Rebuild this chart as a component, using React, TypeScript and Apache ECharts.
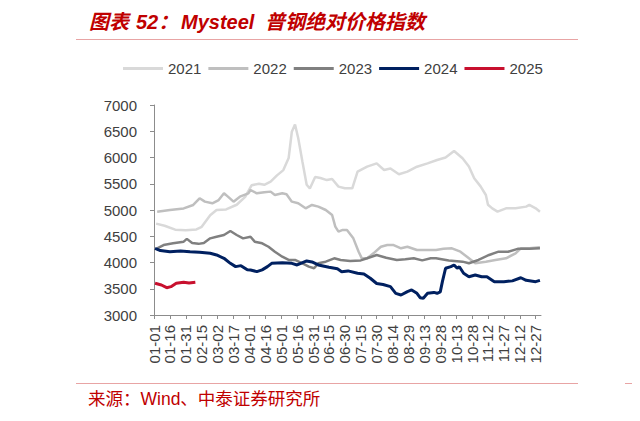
import React, { useEffect, useRef } from "react";
import * as echarts from "echarts";

const YEARS = ["2021", "2022", "2023", "2024", "2025"];
const COLORS = ["#d9d9d9", "#bfbfbf", "#808080", "#002060", "#c8102e"];
const WIDTHS = [2.5, 2.5, 2.5, 3, 3];

const TICK_LABELS = [
  "01-01", "01-16", "01-31", "02-15", "03-02", "03-17", "04-01", "04-16", "05-01",
  "05-16", "05-31", "06-15", "06-30", "07-15", "07-30", "08-14", "08-29", "09-13",
  "09-28", "10-13", "10-28", "11-12", "11-27", "12-12", "12-27",
];

// [day of year, index value]
const D2021 = [
  [2, 4740], [10, 4700], [20, 4625], [30, 4615], [40, 4630], [45, 4680], [53, 4900], [59, 5000],
  [68, 5010], [78, 5100], [86, 5250], [92, 5470], [99, 5500], [104, 5480], [110, 5540], [116, 5660],
  [122, 5760], [127, 5990], [130, 6490], [133, 6630], [136, 6370], [140, 5920], [144, 5480], [147, 5410],
  [152, 5630], [157, 5610], [163, 5570], [168, 5590], [174, 5445], [180, 5413], [187, 5413], [192, 5730],
  [201, 5825], [210, 5889], [217, 5762], [223, 5790], [231, 5680], [239, 5730], [248, 5825], [258, 5889],
  [267, 5953], [275, 6000], [283, 6124], [291, 5985], [297, 5830], [302, 5604], [308, 5450], [313, 5286],
  [315, 5100], [319, 5030], [324, 4968], [332, 5032], [341, 5032], [351, 5064], [354, 5096], [360, 5032],
  [364, 4968],
];
const D2022 = [
  [3, 4968], [15, 5000], [28, 5030], [37, 5096], [43, 5223], [48, 5159], [55, 5127], [61, 5190],
  [66, 5318], [70, 5250], [75, 5159], [81, 5254], [89, 5318], [91, 5381], [97, 5318], [104, 5340],
  [110, 5350], [114, 5286], [121, 5318], [125, 5300], [130, 5159], [136, 5127], [143, 5032], [149, 5096],
  [155, 5064], [162, 5000], [168, 4905], [171, 4683], [174, 4588], [178, 4620], [182, 4619], [188, 4460],
  [193, 4206], [196, 4079], [201, 4079], [207, 4175], [214, 4300], [220, 4333], [226, 4333], [233, 4270],
  [239, 4300], [248, 4238], [258, 4238], [266, 4238], [273, 4260], [281, 4270], [289, 4206], [297, 4080],
  [303, 3984], [313, 4016], [322, 4048], [332, 4080], [341, 4175], [346, 4270], [354, 4270], [364, 4290],
];
const D2023 = [
  [3, 4270], [9, 4333], [18, 4365], [28, 4397], [31, 4450], [36, 4370], [42, 4355], [47, 4370],
  [53, 4460], [59, 4490], [66, 4524], [72, 4600], [78, 4524], [84, 4460], [91, 4490], [95, 4397],
  [102, 4365], [108, 4300], [114, 4206], [121, 4111], [127, 4048], [133, 4048], [140, 3984], [146, 3921],
  [151, 3890], [155, 3984], [162, 4016], [170, 4080], [176, 4048], [185, 4030], [195, 4040], [201, 4080],
  [210, 4143], [219, 4090], [229, 4048], [237, 4060], [245, 4080], [253, 4040], [261, 4080], [266, 4080],
  [278, 4040], [291, 4016], [297, 3985], [306, 4048], [316, 4143], [325, 4206], [334, 4206], [343, 4260],
  [354, 4260], [364, 4270],
];
const D2024 = [
  [1, 4270], [6, 4228], [15, 4206], [25, 4220], [34, 4206], [43, 4195], [53, 4175], [59, 4143],
  [66, 4080], [72, 3984], [77, 3921], [82, 3940], [88, 3860], [91, 3857], [97, 3826], [102, 3860],
  [107, 3921], [111, 3984], [121, 3997], [130, 3984], [135, 3953], [139, 3990], [144, 4030], [149, 4010],
  [155, 3953], [165, 3910], [173, 3880], [177, 3826], [183, 3840], [192, 3794], [198, 3780], [204, 3700],
  [210, 3600], [216, 3580], [223, 3540], [228, 3413], [233, 3381], [239, 3445], [243, 3477], [248, 3413],
  [251, 3330], [254, 3320], [258, 3413], [264, 3430], [267, 3413], [270, 3440], [272, 3635], [275, 3890],
  [280, 3921], [283, 3953], [286, 3890], [288, 3920], [292, 3794], [297, 3730], [303, 3762], [309, 3730],
  [314, 3730], [321, 3635], [330, 3635], [338, 3650], [346, 3710], [351, 3660], [360, 3635], [364, 3660],
];
const D2025 = [
  [1, 3604], [7, 3572], [12, 3520], [16, 3540], [21, 3604], [28, 3625], [33, 3610], [39, 3625],
];
const SERIES_DATA = [D2021, D2022, D2023, D2024, D2025];

const RED = "#c00000";
const PINK = "#e8a4a4";
const LATIN = "'Liberation Sans', Arial, 'Noto Sans CJK SC', sans-serif";
const CJK = "'Liberation Sans', 'Noto Sans CJK SC', sans-serif";

export default function App() {
  const ref = useRef<HTMLDivElement>(null);
  useEffect(() => {
    if (!ref.current) return;
    const chart = echarts.init(ref.current, undefined, { renderer: "svg" });
    const titleStyle = {
      fill: RED,
      font: `italic bold 20px ${CJK}`,
      textVerticalAlign: "middle",
    };
    const srcStyle = { fill: RED, font: `17.5px ${CJK}`, textVerticalAlign: "middle" };
    chart.setOption({
      animation: false,
      backgroundColor: "#ffffff",
      grid: { left: 154, right: 99, top: 105, bottom: 106 },
      legend: {
        left: 118,
        top: 56,
        icon: "rect",
        itemWidth: 40,
        itemHeight: 3,
        itemGap: 7,
        textStyle: { fontSize: 15, color: "#404040", fontFamily: LATIN },
        data: YEARS,
      },
      xAxis: {
        type: "value",
        min: 0,
        max: 365,
        interval: 15,
        splitLine: { show: false },
        axisLine: { lineStyle: { color: "#8c8c8c", width: 1 } },
        axisTick: { show: true, length: 4, lineStyle: { color: "#8c8c8c" } },
        axisLabel: {
          rotate: 90,
          margin: 10,
          fontSize: 15,
          color: "#404040",
          fontFamily: LATIN,
          showMaxLabel: false,
          formatter: (v: number) => (v % 15 === 0 ? TICK_LABELS[v / 15] ?? "" : ""),
        },
      },
      yAxis: {
        type: "value",
        min: 3000,
        max: 7000,
        interval: 500,
        splitLine: { show: false },
        axisLine: { show: true, lineStyle: { color: "#8c8c8c", width: 1 } },
        axisTick: { show: true, length: 4, lineStyle: { color: "#8c8c8c" } },
        axisLabel: {
          fontSize: 15,
          color: "#404040",
          fontFamily: LATIN,
          margin: 17,
          formatter: (v: number) => String(v),
        },
      },
      series: YEARS.map((y, i) => ({
        name: y,
        type: "line",
        data: SERIES_DATA[i],
        showSymbol: false,
        symbol: "none",
        color: COLORS[i],
        lineStyle: { color: COLORS[i], width: WIDTHS[i] },
        z: 2 + i,
      })),
      graphic: [
        { type: "rect", shape: { x: 76, y: 4, width: 502, height: 3 }, style: { fill: RED }, silent: true },
        { type: "rect", shape: { x: 625, y: 4, width: 15, height: 3 }, style: { fill: RED }, silent: true },
        { type: "line", shape: { x1: 76, y1: 39.5, x2: 578, y2: 39.5 }, style: { stroke: PINK, lineWidth: 1 }, silent: true },
        { type: "line", shape: { x1: 76, y1: 383.5, x2: 578, y2: 383.5 }, style: { stroke: PINK, lineWidth: 1 }, silent: true },
        { type: "line", shape: { x1: 625, y1: 383.5, x2: 640, y2: 383.5 }, style: { stroke: PINK, lineWidth: 1 }, silent: true },
        { type: "text", x: 89, y: 22, style: { ...titleStyle, text: "图表" } },
        { type: "text", x: 136, y: 22, style: { ...titleStyle, text: "52：" } },
        { type: "text", x: 181, y: 22, style: { ...titleStyle, text: "Mysteel" } },
        { type: "text", x: 265, y: 22, style: { ...titleStyle, text: "普钢绝对价格指数" } },
        { type: "text", x: 88, y: 398.5, style: { ...srcStyle, text: "来源：Wind、中泰证券研究所" } },
      ],
    });
    return () => chart.dispose();
  }, []);
  return <div ref={ref} style={{ width: 640, height: 421, margin: -8 }} />;
}
